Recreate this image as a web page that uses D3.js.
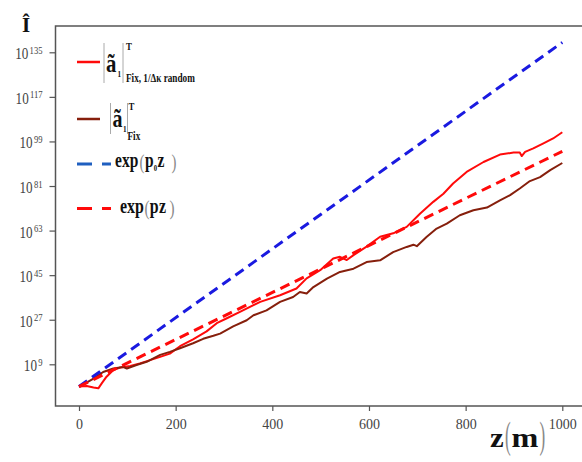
<!DOCTYPE html>
<html><head><meta charset="utf-8">
<script src="https://cdn.jsdelivr.net/npm/d3@7"></script>
<style>html,body{margin:0;padding:0;background:#fff;} svg{display:block;}</style>
</head><body>
<script>
// ---- data (z in m, values given as log10) ----
const zRandom = [0,16,30,40,47,57,71,85,106,126,147,168,188,209,236,264,285,306,333,375,416,450,471,499,526,540,554,568,595,623,650,678,706,733,754,774,802,837,871,899,912,916,923,940,961,981,1000];
const logRandom = [0,0.2,-0.4,-0.7,1.3,4.0,6.7,7.7,8.3,9.3,10.7,12.0,13.3,16.3,19.1,22.3,25.6,27.6,30.2,34.2,36.9,39.6,43.7,47.0,51.7,52.4,51.1,53.1,56.5,60.5,61.9,64.5,69.9,74.6,77.9,82.0,86.7,90.7,93.7,94.5,94.5,93.1,94.8,96.2,98.2,100.2,102.7];
const zFix = [0,12,30,50,71,92,99,119,140,168,188,209,236,257,278,292,319,347,361,388,416,443,457,471,485,513,540,568,595,623,650,678,692,699,719,740,761,788,816,844,871,892,912,933,954,975,1000];
const logFix = [0,1.2,3.2,5.9,7.3,7.9,7.3,8.7,10.0,12.8,14.0,15.5,17.5,19.3,20.5,21.4,24.3,26.8,28.8,30.8,34.2,36.2,38.2,37.6,40.2,43.6,46.3,47.6,50.3,51.0,54.3,56.4,57.3,56.7,60.4,63.8,65.8,69.2,71.2,72.3,75.2,77.3,80.0,83.0,84.6,87.4,90.3];
const zExp = [0,1000];
const logExpP0 = [0,139];
const logExpP = [0,95];
const xTicks = [0,200,400,600,800,1000];
const yTickExps = [9,27,45,63,81,99,117,135];

const W = 582, H = 462;
const serif = "'Liberation Serif','DejaVu Serif',serif";
const svg = d3.select("body").append("svg").attr("width", W).attr("height", H);
svg.append("rect").attr("width", W).attr("height", H).attr("fill", "#fff");

const x = d3.scaleLinear().domain([0,1000]).range([79,562.3]);
const y = d3.scaleLog().domain([1e9,1e135]).range([364.3,52.3]);
const plotLeft = 55.5, plotTop = 26, plotBottom = 406;

// frame (right side lies outside the picture)
svg.append("path").attr("d", `M${W+10},${plotTop}H${plotLeft}V${plotBottom}H${W+10}`)
  .attr("fill","none").attr("stroke","#555").attr("stroke-width",1.5);

// x axis
const gx = svg.append("g").attr("transform", `translate(0,${plotBottom})`)
  .call(d3.axisBottom(x).tickValues(xTicks).tickSize(5).tickPadding(8).tickFormat(d3.format("d")));
gx.select(".domain").remove();
gx.selectAll("line").attr("stroke","#555").attr("stroke-width",1.2);
gx.selectAll("text").attr("font-family",serif).attr("font-size",14).attr("fill","#444");

// y axis
const gy = svg.append("g").attr("transform", `translate(${plotLeft},0)`)
  .call(d3.axisLeft(y).tickValues(yTickExps.map(e => Math.pow(10,e))).tickSize(6).tickFormat(""));
gy.select(".domain").remove();
gy.selectAll("line").attr("stroke","#555").attr("stroke-width",1.2);

yTickExps.forEach(e => {
  const ty = y(Math.pow(10,e));
  const t = svg.append("g").attr("transform", `translate(42.5,${ty+7}) scale(0.82,1)`)
    .append("text").attr("x",0).attr("y",0).attr("text-anchor","end")
    .attr("font-family",serif).attr("fill","#444");
  t.append("tspan").attr("font-size",16).text("10");
  t.append("tspan").attr("font-size",10.5).attr("dx",1.5).attr("dy",-5.5).text(e);
});

// lines
const line = d3.line().x(d => x(d[0])).y(d => y(Math.pow(10,d[1])));
svg.append("path").datum(d3.zip(zRandom,logRandom)).attr("d",line)
  .attr("fill","none").attr("stroke","#ff0a0a").attr("stroke-width",2).attr("stroke-linejoin","round");
svg.append("path").datum(d3.zip(zFix,logFix)).attr("d",line)
  .attr("fill","none").attr("stroke","#861f0c").attr("stroke-width",2).attr("stroke-linejoin","round");
svg.append("path").datum(d3.zip(zExp,logExpP0)).attr("d",line)
  .attr("fill","none").attr("stroke","#1a1ae0").attr("stroke-width",3).attr("stroke-dasharray","10,6");
svg.append("path").datum(d3.zip(zExp,logExpP)).attr("d",line)
  .attr("fill","none").attr("stroke","#ff0a0a").attr("stroke-width",3).attr("stroke-dasharray","10,6");

// legend
const lg = svg.append("g");
lg.append("line").attr("x1",77).attr("x2",100).attr("y1",62).attr("y2",62).attr("stroke","#ff0a0a").attr("stroke-width",2.5);
lg.append("line").attr("x1",77).attr("x2",100).attr("y1",119).attr("y2",119).attr("stroke","#861f0c").attr("stroke-width",2.5);
lg.append("line").attr("x1",77).attr("x2",111).attr("y1",164).attr("y2",164).attr("stroke","#1f5fc0").attr("stroke-width",3).attr("stroke-dasharray","15,10");
lg.append("line").attr("x1",77).attr("x2",111).attr("y1",208.5).attr("y2",208.5).attr("stroke","#ff0a0a").attr("stroke-width",3).attr("stroke-dasharray","15,10");

function bar(xx, y1, y2) {
  lg.append("line").attr("x1",xx).attr("x2",xx).attr("y1",y1).attr("y2",y2).attr("stroke","#aaa").attr("stroke-width",1);
}
// one text element per label; parts placed at absolute target positions,
// glyphs compressed horizontally by sx
function mathText(parts, x0, sx) {
  const t = lg.append("g").attr("transform", `translate(${x0},0) scale(${sx},1)`)
    .append("text").attr("font-family",serif);
  parts.forEach(p => {
    t.append("tspan").attr("x",(p.x - x0)/sx).attr("y",p.y)
      .attr("font-size",p.s).attr("font-weight",p.w || "bold").attr("fill",p.f || "#111").text(p.t);
  });
}
const G = "#888";
// item 1
bar(104,43,83); bar(123,43,83);
mathText([
  {t:"ã",x:106,y:72,s:26},
  {t:"1",x:117.5,y:77,s:9},
  {t:"T",x:126,y:50,s:11},
  {t:"Fix, 1/Δκ random",x:126,y:82,s:11.5}
],106,0.8);
// item 2
bar(110.5,103,134); bar(127.5,103,134);
mathText([
  {t:"ã",x:112.5,y:127,s:25},
  {t:"1",x:123,y:132,s:9},
  {t:"T",x:128.5,y:110,s:11},
  {t:"Fix",x:127.5,y:140,s:11.5}
],112.5,0.8);
// item 3
mathText([
  {t:"exp",x:115,y:167.3,s:21},
  {t:"(",x:139.5,y:169,s:20,w:"normal",f:G},
  {t:"p",x:145,y:167.3,s:21},
  {t:"0",x:153.8,y:171.5,s:9},
  {t:"z",x:157.6,y:167.3,s:21},
  {t:")",x:171.5,y:169,s:20,w:"normal",f:G}
],115,0.74);
// item 4
mathText([
  {t:"exp",x:120,y:213.3,s:21},
  {t:"(",x:144.5,y:215,s:20,w:"normal",f:G},
  {t:"p",x:149.8,y:213.3,s:21},
  {t:"z",x:158.9,y:213.3,s:21},
  {t:")",x:169.5,y:215,s:20,w:"normal",f:G}
],120,0.76);

// title and x label
mathText([{t:"Î",x:22,y:32,s:21}],22,1);
mathText([{t:"z",x:490,y:446.7,s:28}],490,1.1);
mathText([{t:"(",x:505,y:448.5,s:38,w:"normal",f:G}],505,0.45);
mathText([{t:"m",x:511.5,y:446.7,s:28}],511.5,1.15);
mathText([{t:")",x:539.5,y:448.5,s:38,w:"normal",f:G}],539.5,0.45);
</script>
</body></html>
